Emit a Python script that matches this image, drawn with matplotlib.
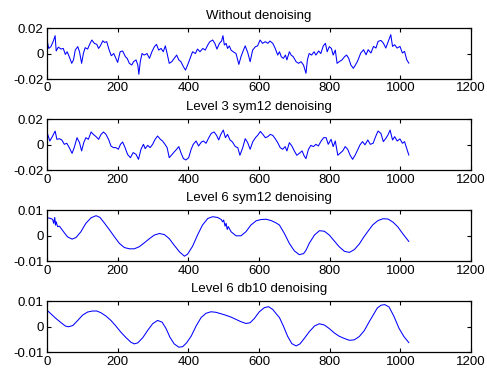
import matplotlib
matplotlib.use("Agg")
import matplotlib.pyplot as plt

plt.rcParams['font.family'] = ['Liberation Sans', 'DejaVu Sans']
plt.rcParams['font.size'] = 9.5

titles = ['Without denoising', 'Level 3 sym12 denoising',
          'Level 6 sym12 denoising', 'Level 6 db10 denoising']

# samples (sample index, amplitude)
raw_t = [1, 5, 11, 18, 23, 26, 32, 40, 46, 52, 57, 63, 70, 75, 80, 87, 92, 98, 103, 108,
         115, 122, 127, 134, 141, 146, 151, 158, 163, 169, 176, 182, 189, 195, 200, 207,
         214, 222, 227, 233, 240, 245, 252, 257, 260, 264, 269, 275, 283, 290, 297, 304,
         310, 316, 323, 329, 335, 340, 346, 353, 360, 367, 373, 379, 386, 392, 398, 405,
         412, 420, 426, 433, 441, 448, 455, 461, 469, 475, 481, 488, 494, 498, 502, 507,
         511, 516, 521, 527, 535, 543, 549, 556, 561, 568, 575, 582, 590, 596, 603, 610,
         618, 625, 631, 639, 646, 653, 658, 663, 669, 675, 679, 686, 691, 697, 705, 712,
         719, 726, 733, 737, 742, 749, 756, 761, 769, 775, 782, 788, 793, 799, 805, 810,
         816, 821, 827, 835, 842, 848, 854, 860, 867, 873, 879, 888, 896, 903, 909, 917,
         924, 931, 937, 945, 952, 959, 965, 973, 978, 984, 991, 999, 1006, 1012, 1018, 1024]
raw_v = [0.0093, 0.004, 0.0054, 0.0098, 0.014, 0.002, 0.005, 0.0035, 0.004, -0.0007,
         0.0014, -0.0025, -0.0077, -0.005, 0.0027, 0.0054, 0.0014, -0.0077, 0.0001, 0.0046,
         0.0035, 0.008, 0.0106, 0.008, 0.0072, 0.004, 0.006, 0.01, 0.0087, 0.0093,
         0.0027, -0.0017, 0.0, -0.0038, -0.007, 0.0014, 0.002, -0.0025, -0.0038, -0.0077,
         -0.009, -0.0064, -0.005, -0.009, -0.0163, -0.0064, 0.0, -0.0012, 0.0, -0.0038,
         0.0014, 0.0054, 0.0072, 0.0027, 0.004, 0.0014, 0.006, 0.0, -0.0077, -0.0064,
         -0.0038, -0.0012, -0.005, -0.0064, -0.0103, -0.013, -0.009, -0.0038, 0.0014, 0.0,
         0.0035, 0.0014, 0.004, 0.0027, 0.0067, 0.0093, 0.0106, 0.008, 0.0035, 0.008,
         0.0098, 0.014, 0.0067, 0.008, 0.004, 0.006, 0.0027, 0.0014, 0.0, -0.0085,
         -0.0025, 0.0027, 0.006, 0.0009, -0.0064, 0.0027, 0.0054, 0.006, 0.0106, 0.008,
         0.0093, 0.008, 0.0098, 0.008, 0.004, -0.0012, 0.0014, -0.0025, -0.0038, -0.0012,
         -0.005, 0.0014, -0.0012, -0.0025, -0.0064, -0.0077, -0.0064, -0.009, -0.0155, -0.005,
         0.0, -0.0012, 0.0014, -0.0012, 0.002, 0.0, 0.006, 0.008, 0.0014, 0.0054,
         0.004, -0.0012, 0.0027, -0.0077, -0.0064, -0.005, -0.0025, -0.0012, -0.0038, -0.009,
         -0.0116, -0.009, -0.006, 0.0004, 0.003, -0.001, 0.003, 0.0004, 0.0056, 0.0043,
         0.0095, 0.0103, 0.0082, 0.0043, 0.0088, 0.0148, 0.0056, 0.0069, 0.0043, 0.0056,
         0.0004, 0.0017, -0.0048, -0.0075]

l3_t = [2, 8, 16, 23, 28, 35, 42, 49, 56, 63, 71, 77, 85, 92, 98, 104, 110, 117, 125, 131,
        139, 146, 153, 160, 167, 175, 181, 188, 195, 202, 208, 214, 221, 228, 236, 244,
        252, 259, 266, 273, 278, 285, 292, 299, 306, 313, 321, 327, 334, 340, 346, 354,
        360, 367, 373, 379, 386, 393, 401, 408, 414, 422, 429, 437, 443, 450, 458, 465,
        473, 480, 486, 492, 499, 505, 511, 518, 525, 533, 540, 546, 554, 561, 568, 575,
        582, 590, 596, 604, 611, 618, 625, 632, 639, 646, 653, 660, 667, 674, 679, 686,
        693, 700, 707, 714, 722, 728, 733, 740, 747, 754, 761, 768, 776, 783, 790, 796,
        804, 810, 816, 823, 829, 837, 844, 851, 858, 865, 872, 879, 886, 893, 900, 908,
        915, 923, 930, 937, 945, 952, 959, 965, 971, 978, 984, 991, 999, 1006, 1012, 1018, 1024]
l3_v = [0.0082, 0.003, 0.0069, 0.0108, 0.0043, 0.0048, 0.0038, 0.0004, 0.0012, -0.0022,
        -0.0067, -0.0022, 0.0056, 0.0017, -0.0048, 0.0017, 0.0056, 0.0043, 0.0101, 0.0082,
        0.0064, 0.0043, 0.0082, 0.0101, 0.0082, 0.0038, -0.0009, -0.0022, -0.0022, -0.0035,
        0.0004, 0.0022, -0.0022, -0.0075, -0.0101, -0.0061, -0.0075, -0.0114, -0.0035, 0.0004,
        -0.003, -0.0004, -0.0022, 0.0004, 0.0043, 0.0069, 0.0043, 0.003, 0.0004, -0.0022,
        -0.0101, -0.0075, -0.0056, -0.0035, -0.0014, -0.0061, -0.0108, -0.0119, -0.0101, -0.0035,
        0.0004, 0.003, -0.0009, 0.0022, 0.003, 0.0012, 0.0056, 0.009, 0.0101, 0.0074,
        0.0038, 0.0082, 0.0116, 0.0056, 0.0082, 0.0038, 0.0022, -0.0014, -0.0022, -0.0082,
        -0.0022, 0.0048, 0.0017, -0.0035, 0.0022, 0.0056, 0.0074, 0.0105, 0.0082, 0.0056,
        0.0064, 0.0082, 0.0074, 0.0048, 0.0017, -0.0022, -0.0035, -0.0014, -0.0048, 0.0017,
        -0.0009, -0.0048, -0.0082, -0.0067, -0.0048, -0.0088, -0.0108, -0.0035, -0.0004, -0.0014,
        0.0004, -0.0009, 0.003, 0.0056, 0.0056, 0.0004, 0.0043, -0.0014, 0.003, -0.0082,
        -0.0067, -0.0048, -0.0014, -0.0035, -0.0082, -0.0114, -0.0082, -0.004, 0.0, 0.0025,
        0.0, 0.0038, 0.0004, 0.0012, 0.0064, 0.0108, 0.009, 0.0025, 0.0051, 0.0077,
        0.0116, 0.0038, 0.0064, 0.003, 0.0046, 0.0012, 0.0025, -0.0027, -0.008]

s12_t = [1, 11, 16, 19, 22, 24, 26, 30, 35, 40, 49, 58, 71, 82, 96, 110, 125, 139, 150, 162,
         176, 191, 205, 219, 233, 247, 261, 275, 290, 304, 318, 332, 346, 360, 375, 389,
         398, 412, 426, 440, 455, 469, 483, 493, 497, 500, 504, 507, 510, 513, 521, 535,
         549, 563, 577, 592, 606, 620, 634, 648, 658, 672, 686, 700, 714, 726, 731, 734,
         742, 757, 771, 785, 799, 813, 827, 842, 856, 870, 884, 896, 908, 922, 937, 951,
         965, 979, 993, 1007, 1024]
s12_v = [0.0071, 0.0068, 0.0064, 0.0049, 0.0072, 0.0042, 0.0055, 0.0036, 0.0038, 0.0029,
         0.0012, -0.0004, -0.0013, -0.0007, 0.0016, 0.0049, 0.0071, 0.0079, 0.0072, 0.0051,
         0.0025, -0.0004, -0.003, -0.0046, -0.0051, -0.0051, -0.0043, -0.0028, -0.0011, 0.0003,
         0.0009, 0.0005, -0.0011, -0.0037, -0.0063, -0.008, -0.0072, -0.0041, 0.0003, 0.0042,
         0.0068, 0.0075, 0.0072, 0.0064, 0.0055, 0.0062, 0.0038, 0.0049, 0.0025, 0.0036,
         0.0016, 0.0, 0.0, 0.0016, 0.0042, 0.0059, 0.0064, 0.0065, 0.006, 0.0051,
         0.0042, 0.0009, -0.003, -0.0059, -0.0074, -0.007, -0.0061, -0.0054, -0.003, 0.0003,
         0.002, 0.0018, 0.0003, -0.002, -0.0043, -0.0061, -0.0065, -0.0054, -0.0032, -0.0006,
         0.0017, 0.0043, 0.006, 0.0067, 0.0066, 0.0054, 0.0035, 0.0008, -0.0022]

db10_t = [1, 11, 25, 40, 52, 61, 73, 87, 101, 115, 129, 141, 153, 167, 181, 195, 209, 224,
          238, 247, 257, 271, 285, 299, 313, 326, 337, 348, 360, 373, 384, 395, 408, 422,
          436, 450, 464, 478, 493, 507, 521, 535, 549, 563, 575, 587, 601, 615, 627, 639,
          650, 658, 669, 681, 693, 705, 716, 728, 742, 757, 771, 785, 799, 813, 827, 842,
          856, 870, 884, 898, 910, 921, 935, 946, 956, 968, 982, 996, 1010, 1024]
db10_v = [0.0064, 0.0051, 0.0033, 0.0016, 0.0003, 0.0, 0.0005, 0.0025, 0.0046, 0.0058,
          0.0062, 0.0062, 0.0055, 0.0042, 0.0025, 0.0003, -0.0021, -0.0043, -0.0061, -0.0067,
          -0.0063, -0.0043, -0.0014, 0.0012, 0.0025, 0.0018, -0.0007, -0.0041, -0.0067, -0.008,
          -0.0078, -0.0063, -0.0037, 0.0003, 0.0036, 0.0053, 0.0059, 0.0057, 0.0051, 0.0045,
          0.0038, 0.0029, 0.002, 0.0013, 0.0016, 0.0033, 0.0059, 0.0075, 0.0079, 0.0068,
          0.0049, 0.0036, 0.0003, -0.0037, -0.0066, -0.0075, -0.0067, -0.0046, -0.002, 0.0003,
          0.0012, 0.0007, -0.0007, -0.0024, -0.0037, -0.0046, -0.0053, -0.0051, -0.0038, -0.0015,
          0.0015, 0.0041, 0.0074, 0.0085, 0.0087, 0.0078, 0.0041, -0.0005, -0.0038, -0.0062]

series = [(raw_t, raw_v), (l3_t, l3_v), (s12_t, s12_v), (db10_t, db10_v)]
ylims = [0.02, 0.02, 0.01, 0.01]
ylabels = [['-0.02', '0', '0.02'], ['-0.02', '0', '0.02'],
           ['-0.01', '0', '0.01'], ['-0.01', '0', '0.01']]
xticks = [0, 200, 400, 600, 800, 1000, 1200]

fig = plt.figure(figsize=(4.87, 3.72), dpi=100)
bottoms = [0.7876, 0.5422, 0.2976, 0.053]

for i in range(4):
    ax = fig.add_axes([0.0965, bottoms[i], 0.8706, 0.137])
    t, v = series[i]
    ax.plot(t, v, color='#0000ff', linewidth=0.75)
    ax.set_xlim(0, 1200)
    ax.set_ylim(-ylims[i], ylims[i])
    ax.set_xticks(xticks)
    ax.set_xticklabels([str(x) for x in xticks])
    ax.set_yticks([-ylims[i], 0, ylims[i]])
    ax.set_yticklabels(ylabels[i])
    ax.tick_params(direction='in', top=True, right=True, length=3, width=0.8, pad=2.5)
    for s in ax.spines.values():
        s.set_linewidth(0.9)
    ax.set_title(titles[i], fontsize=9.5, pad=6.5)

fig.savefig('out.png', dpi=100)
